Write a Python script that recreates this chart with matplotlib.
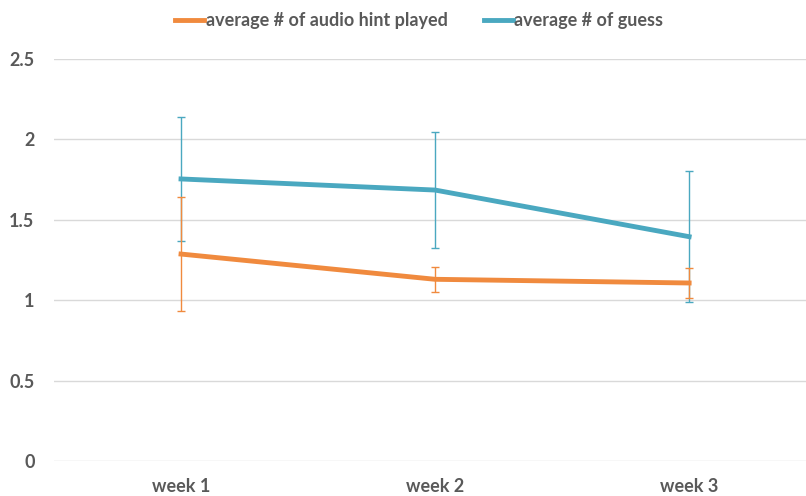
import numpy as np
import matplotlib.pyplot as plt

weeks = ['week 1', 'week 2', 'week 3']
audio_hint = [1.287, 1.13, 1.107]
audio_hint_err = [0.355, 0.078, 0.093]
guess = [1.754, 1.685, 1.395]
guess_err = [0.385, 0.36, 0.408]

orange = '#F08A3E'
blue = '#4AA8C0'
text_color = '#595959'

plt.rcParams['font.family'] = ['Lato', 'DejaVu Sans']
plt.rcParams['font.weight'] = 'bold'

fig = plt.figure(figsize=(8.06, 4.96), dpi=100)
ax = fig.add_axes([54 / 806, (496 - 461) / 496, 1 - 54 / 806, (461 - 59) / 496])

x = np.arange(len(weeks))
ax.errorbar(x, guess, yerr=guess_err, color=blue, lw=3.5,
            elinewidth=1, capsize=3, capthick=1, label='average # of guess', zorder=3)
ax.errorbar(x, audio_hint, yerr=audio_hint_err, color=orange, lw=3.5,
            elinewidth=1, capsize=3, capthick=1, label='average # of audio hint played', zorder=4)

ax.set_xlim(-0.5, 2.46)
ax.set_ylim(0, 2.5)
ax.set_yticks([0, 0.5, 1, 1.5, 2, 2.5])
ax.set_yticklabels(['0', '0.5', '1', '1.5', '2', '2.5'])
ax.set_xticks(x)
ax.set_xticklabels(weeks)
ax.grid(axis='y', color='#D9D9D9', lw=1)
ax.set_axisbelow(True)
for s in ax.spines.values():
    s.set_visible(False)
ax.tick_params(length=0, labelsize=13, colors=text_color)
ax.tick_params(axis='y', pad=14)
ax.tick_params(axis='x', pad=12)

labels = ['average # of audio hint played', 'average # of guess']
handles = [plt.Line2D([], [], color=orange, lw=3.5), plt.Line2D([], [], color=blue, lw=3.5)]
fig.legend(handles, labels, loc='center', bbox_to_anchor=(0.52, 0.958), ncol=2, frameon=False,
           fontsize=13, labelcolor=text_color, handlelength=1.6, handletextpad=0.1, columnspacing=2.0)

fig.savefig('out.png', dpi=100, facecolor='white')
